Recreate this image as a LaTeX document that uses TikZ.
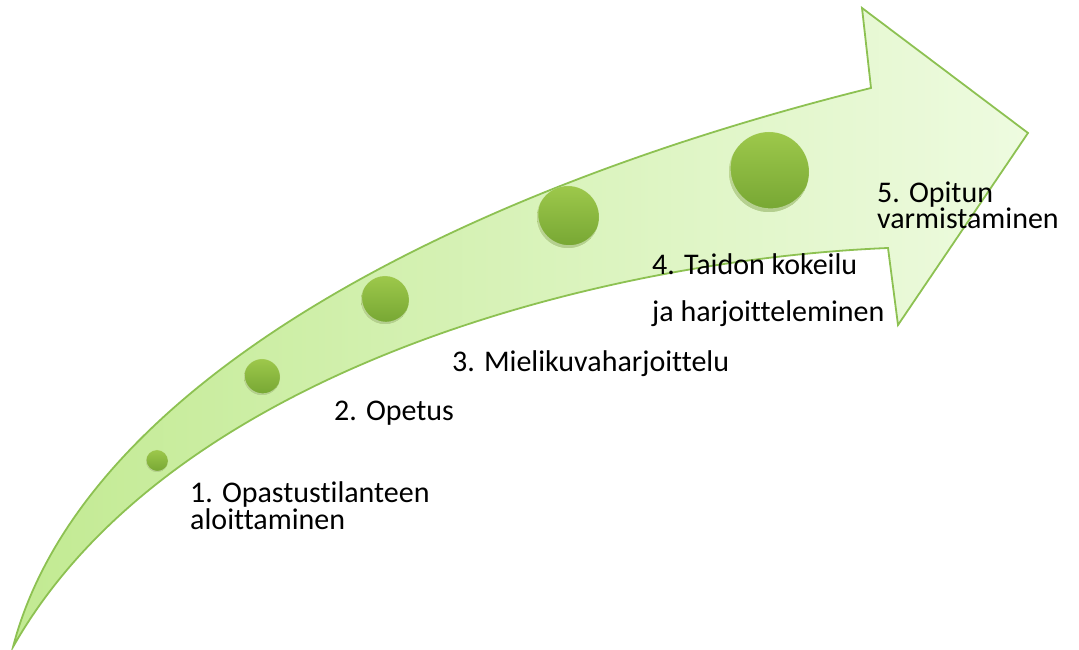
\documentclass[tikz,border=0pt]{standalone}
\usepackage{fontspec}
\setmainfont{Carlito}[Ligatures={NoCommon,NoContextual}]
\usetikzlibrary{calc}
\definecolor{arrowtail}{HTML}{C2EA92}
\definecolor{arrowhead}{HTML}{EEFBE0}
\definecolor{arrowline}{HTML}{8DC152}
\definecolor{balltop}{HTML}{9DC84B}
\definecolor{ballbot}{HTML}{76A633}
\def\mycolort{black}

\begin{document}
\begin{tikzpicture}
\tikzstyle{ball}=[circle,inner sep=0pt,top color=balltop,bottom color=ballbot,draw=none,
  path picture={
    \fill [white, opacity=0.45, even odd rule] let \p1=(path picture bounding box.north east), \p2=(path picture bounding box.center), \n1={\x1-\x2} in
      (\p2) circle (\n1) ($(\p2)+(0.04*\n1,0.09*\n1)$) circle (\n1);
  }]
\tikzstyle{steptext}=[inner sep=0pt,anchor=base west,align=left,font=\fontsize{30}{27}\selectfont,color=\mycolort]

\useasboundingbox (0,0) rectangle (1079pt,650pt);

\coordinate (tail) at (13pt,3pt);
\coordinate (shoulderup) at (871pt,562pt);
\coordinate (headup) at (862pt,642pt);
\coordinate (headtip) at (1028pt,517pt);
\coordinate (headlow) at (898pt,325pt);
\coordinate (shoulderlow) at (888pt,402pt);

\shade [left color=arrowtail, right color=arrowhead, draw=arrowline, line width=1.8pt, line join=miter]
  (tail) .. controls (80pt,260pt) and (440pt,455pt) .. (shoulderup)
  -- (headup) -- (headtip) -- (headlow) -- (shoulderlow)
  .. controls (600pt,390pt) and (170pt,280pt) .. (tail) -- cycle;

\node (b1) [ball, minimum size=22pt] at (157pt,189pt) {};
\node (b2) [ball, minimum size=36pt] at (262pt,273pt) {};
\node (b3) [ball, minimum size=48pt] at (385pt,350pt) {};
\node (b4) [ball, minimum size=62pt] at (568pt,433pt) {};
\node (b5) [ball, minimum size=80pt] at (769pt,478pt) {};

\node (T1) [steptext, xshift=33pt, yshift=-69pt] at (b1) {1. Opastustilanteen\\aloittaminen};
\node (T2) [steptext, xshift=72pt, yshift=-44pt] at (b2) {2. Opetus};
\node (T3) [steptext, xshift=67pt, yshift=-72pt] at (b3) {3. Mielikuvaharjoittelu};
\node (T4) [steptext, xshift=84pt, yshift=-105pt] at (b4) {4. Taidon kokeilu\\[20pt]ja harjoitteleminen};
\node (T5) [steptext, xshift=108pt, yshift=-57pt, font=\fontsize{30}{24}\selectfont] at (b5) {5. Opitun\\varmistaminen};

\end{tikzpicture}
\end{document}
